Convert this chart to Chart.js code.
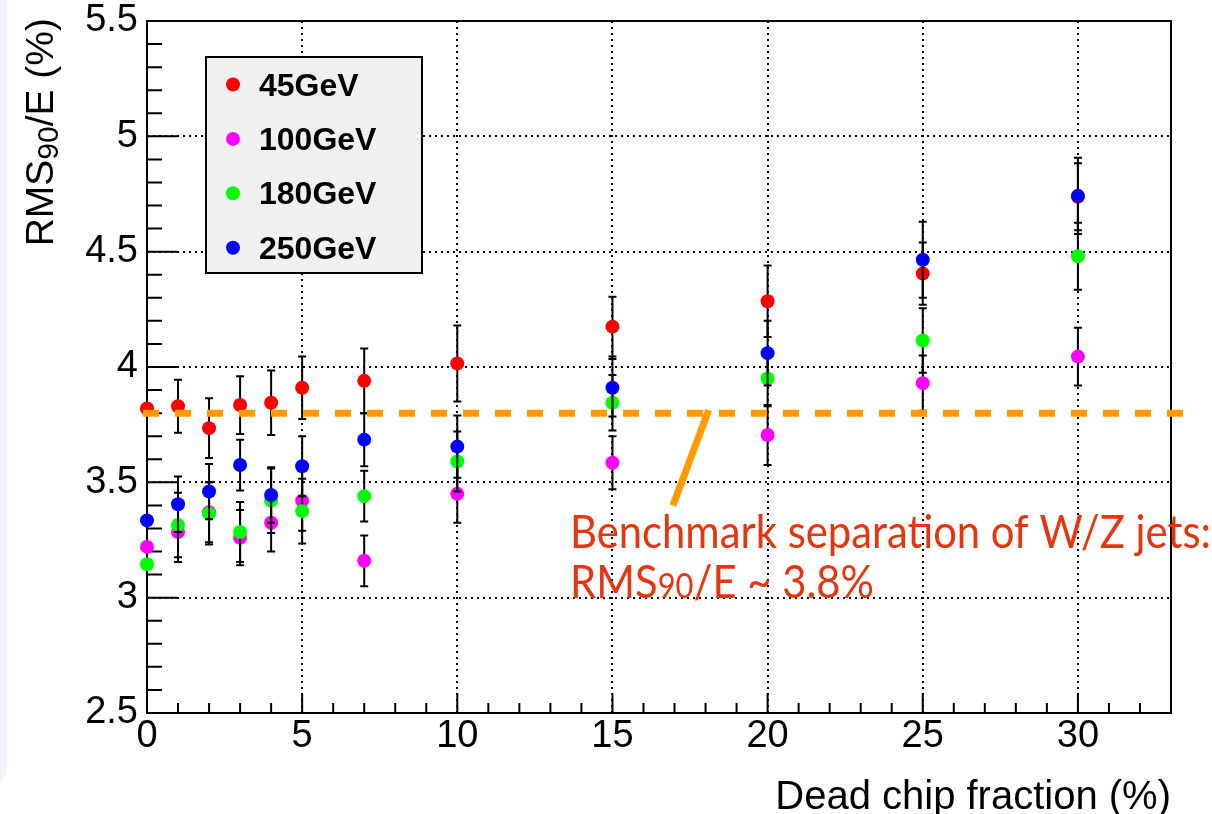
<!DOCTYPE html>
<html>
<head>
<meta charset="utf-8">
<title>Dead chip fraction</title>
<script src="https://cdn.jsdelivr.net/npm/chart.js@4.4.1/dist/chart.umd.min.js"></script>
<style>
  html, body { margin: 0; padding: 0; background: #fff; }
  #wrap { position: relative; width: 1212px; height: 814px; }
</style>
</head>
<body>
<div id="wrap"><canvas id="resolution"></canvas></div>
<script>
// dead chip fraction (%) for each scan point
const fractions = [0, 1, 2, 3, 4, 5, 7, 10, 15, 20, 25, 30];

// RMS90/E (%) and its error, per beam energy
const rms45  = [3.82, 3.83, 3.735, 3.835, 3.845, 3.91, 3.94, 4.015, 4.175, 4.285, 4.405, 4.738];
const err45  = [0, 0.115, 0.13, 0.125, 0.14, 0.135, 0.14, 0.165, 0.13, 0.155, 0.135, 0.145];
const rms100 = [3.22, 3.285, 3.37, 3.26, 3.325, 3.42, 3.16, 3.45, 3.585, 3.705, 3.93, 4.045];
const err100 = [0, 0.13, 0.13, 0.12, 0.125, 0.13, 0.11, 0.125, 0.115, 0.13, 0.12, 0.125];
const rms180 = [3.145, 3.315, 3.365, 3.285, 3.42, 3.375, 3.44, 3.59, 3.845, 3.95, 4.115, 4.48];
const err180 = [0, 0.14, 0.135, 0.13, 0.14, 0.14, 0.11, 0.13, 0.12, 0.12, 0.14, 0.145];
const rms250 = [3.335, 3.405, 3.46, 3.575, 3.445, 3.57, 3.685, 3.655, 3.91, 4.06, 4.465, 4.742];
const err250 = [0, 0.12, 0.12, 0.11, 0.12, 0.13, 0.115, 0.135, 0.125, 0.14, 0.165, 0.165];

const energies = ['45GeV', '100GeV', '180GeV', '250GeV'];
const colours = ['#ff0000', '#ff00ff', '#00ff00', '#0000ff'];

// W/Z separation benchmark
const benchmark = 3.8;

const xMin = 0, xMax = 33;
const yMin = 2.5, yMax = 5.5;

const series = [rms45, rms100, rms180, rms250];
const errors = [err45, err100, err180, err250];

const FONT = "'Liberation Sans', Arial, Helvetica, sans-serif";
const NOTE = '#e6360f';
const ORANGE = '#ff9a00';

function isHalf(v) {
  return Math.abs(v * 2 - Math.round(v * 2)) < 1e-6;
}

const rootStyle = {
  id: 'rootStyle',
  beforeDraw(chart) {
    const ctx = chart.ctx;
    // slide background strip on the left
    ctx.save();
    ctx.fillStyle = '#f2f2f8';
    ctx.beginPath();
    ctx.roundRect(-40, -40, 47, 830, 24);
    ctx.fill();
    ctx.restore();
  },
  beforeDatasetsDraw(chart) {
    const { ctx, chartArea: a, scales: { x, y } } = chart;
    ctx.save();
    ctx.strokeStyle = '#000';
    ctx.lineWidth = 2;
    ctx.strokeRect(a.left, a.top, a.right - a.left, a.bottom - a.top);
    ctx.beginPath();
    x.ticks.forEach(t => {
      const px = x.getPixelForValue(t.value);
      const len = t.value % 5 === 0 ? 20 : 10;
      ctx.moveTo(px, a.bottom);
      ctx.lineTo(px, a.bottom - len);
    });
    y.ticks.forEach(t => {
      const py = y.getPixelForValue(t.value);
      const len = isHalf(t.value) ? 30 : 15;
      ctx.moveTo(a.left, py);
      ctx.lineTo(a.left + len, py);
    });
    ctx.stroke();
    ctx.restore();
  },
  beforeDatasetDraw(chart, args) {
    // vertical error bars with small caps, under this graph's markers
    const ctx = chart.ctx;
    const y = chart.scales.y;
    const errs = errors[args.index];
    const vals = series[args.index];
    ctx.save();
    ctx.strokeStyle = '#000';
    ctx.lineWidth = 2;
    ctx.beginPath();
    args.meta.data.forEach((pt, i) => {
      if (!errs[i]) return;
      const top = y.getPixelForValue(vals[i] + errs[i]);
      const bot = y.getPixelForValue(vals[i] - errs[i]);
      ctx.moveTo(pt.x, top);
      ctx.lineTo(pt.x, bot);
      ctx.moveTo(pt.x - 4, top);
      ctx.lineTo(pt.x + 4, top);
      ctx.moveTo(pt.x - 4, bot);
      ctx.lineTo(pt.x + 4, bot);
    });
    ctx.stroke();
    ctx.restore();
  },
  afterDatasetsDraw(chart) {
    const { ctx, chartArea: a, scales: { x, y } } = chart;

    // benchmark line
    const by = y.getPixelForValue(benchmark);
    ctx.save();
    ctx.strokeStyle = ORANGE;
    ctx.lineWidth = 7;
    ctx.setLineDash([16, 16]);
    ctx.beginPath();
    ctx.moveTo(x.getPixelForValue(0) - 4, by);
    ctx.lineTo(a.right + 14, by);
    ctx.stroke();
    ctx.setLineDash([]);

    // pointer from the note up to the line
    ctx.beginPath();
    ctx.moveTo(x.getPixelForValue(18.1), by - 3);
    ctx.lineTo(x.getPixelForValue(16.95), y.getPixelForValue(3.4));
    ctx.stroke();

    // note text
    ctx.fillStyle = NOTE;
    ctx.textBaseline = 'alphabetic';
    ctx.textAlign = 'left';
    ctx.font = "46px Lato, 'Open Sans', sans-serif";
    const line1 = 'Benchmark separation of W/Z jets:';
    const sx = 641 / ctx.measureText(line1).width;
    const nx = 570, ny1 = 548, ny2 = 598;
    ctx.save();
    ctx.translate(nx, 0);
    ctx.scale(sx, 1);
    ctx.fillText(line1, 0, ny1);
    let cx = 0;
    ctx.fillText('RMS', cx, ny2);
    cx += ctx.measureText('RMS').width;
    ctx.font = "34px Lato, 'Open Sans', sans-serif";
    ctx.fillText('90', cx, ny2);
    cx += ctx.measureText('90').width;
    ctx.font = "46px Lato, 'Open Sans', sans-serif";
    ctx.fillText('/E ~ 3.8%', cx, ny2);
    ctx.restore();

    // legend box
    const lx = 206, ly = 57, lw = 216, lh = 216;
    ctx.fillStyle = '#f0f0f0';
    ctx.fillRect(lx, ly, lw, lh);
    ctx.strokeStyle = '#000';
    ctx.lineWidth = 2;
    ctx.strokeRect(lx, ly, lw, lh);
    ctx.font = 'bold 32px ' + FONT;
    chart.data.datasets.forEach((ds, i) => {
      const ey = 84.5 + i * 54.4;
      ctx.fillStyle = ds.backgroundColor;
      ctx.beginPath();
      ctx.arc(lx + 27, ey, 7, 0, Math.PI * 2);
      ctx.fill();
      ctx.fillStyle = '#000';
      ctx.fillText(ds.label, lx + 53, ey + 11);
    });

    // axis titles
    ctx.font = '40px ' + FONT;
    ctx.textAlign = 'right';
    ctx.fillText('Dead chip fraction (%)', a.right, 809);

    ctx.save();
    ctx.translate(53, 0);
    ctx.rotate(-Math.PI / 2);
    ctx.textAlign = 'left';
    const parts = [['RMS', 39, 0], ['90', 30, 5], ['/E (%)', 39, 0]];
    let total = 0;
    parts.forEach(p => { ctx.font = p[1] + 'px ' + FONT; total += ctx.measureText(p[0]).width; });
    let tx = -(18 + total);
    parts.forEach(p => {
      ctx.font = p[1] + 'px ' + FONT;
      ctx.fillText(p[0], tx, p[2]);
      tx += ctx.measureText(p[0]).width;
    });
    ctx.restore();
    ctx.restore();
  }
};

const datasets = series.map((vals, i) => ({
  label: energies[i],
  data: fractions.map((f, j) => ({ x: f, y: vals[j] })),
  backgroundColor: colours[i],
  pointBackgroundColor: colours[i],
  pointBorderWidth: 0,
  pointRadius: 7,
  showLine: false,
  clip: false,
  order: series.length - i
}));

const ctx = document.getElementById('resolution').getContext('2d');

const chart = new Chart(ctx, {
  type: 'scatter',
  data: { datasets: datasets },
  options: {
    responsive: true,
    maintainAspectRatio: false,
    animation: false,
    layout: { padding: { top: 21, right: 41, left: 0, bottom: 0 } },
    plugins: { legend: { display: false }, tooltip: { enabled: false } },
    scales: {
      x: {
        type: 'linear',
        min: xMin,
        max: xMax,
        afterFit(scale) {
          scale.height = 101;
          scale.paddingLeft = 0;
          scale.paddingRight = 0;
        },
        border: { display: false, dash: [2, 4] },
        grid: {
          drawTicks: false,
          lineWidth: 2,
          color: c => (c.tick && c.tick.value % 5 === 0 && c.tick.value > xMin) ? '#000' : 'rgba(0,0,0,0)'
        },
        ticks: {
          stepSize: 1,
          autoSkip: false,
          maxRotation: 0,
          padding: 5,
          color: '#000',
          font: { family: FONT, size: 38, lineHeight: 1 },
          callback: v => (v % 5 === 0 ? String(v) : '')
        }
      },
      y: {
        type: 'linear',
        min: yMin,
        max: yMax,
        afterFit(scale) {
          scale.width = 147;
          scale.paddingTop = 0;
          scale.paddingBottom = 0;
        },
        border: { display: false, dash: [2, 4] },
        grid: {
          drawTicks: false,
          lineWidth: 2,
          color: c => (c.tick && isHalf(c.tick.value) && c.tick.value > yMin + 0.01 && c.tick.value < yMax - 0.01) ? '#000' : 'rgba(0,0,0,0)'
        },
        ticks: {
          stepSize: 0.1,
          autoSkip: false,
          padding: 9,
          color: '#000',
          font: { family: FONT, size: 38, lineHeight: 1 },
          callback: v => (isHalf(v) ? String(+v.toFixed(1)) : '')
        }
      }
    }
  },
  plugins: [rootStyle]
});
</script>
</body>
</html>
